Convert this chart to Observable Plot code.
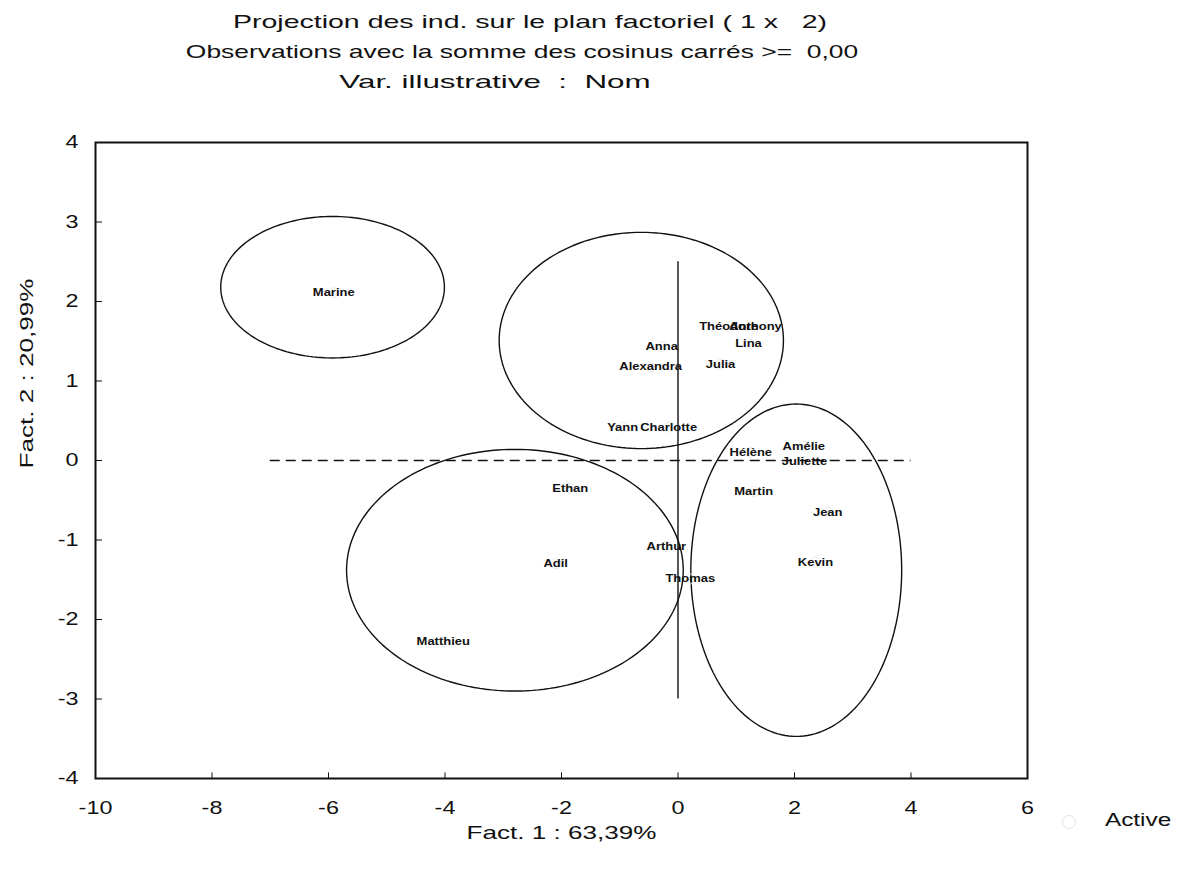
<!DOCTYPE html>
<html>
<head>
<meta charset="utf-8">
<script src="https://cdn.jsdelivr.net/npm/d3@7"></script>
<script src="https://cdn.jsdelivr.net/npm/@observablehq/plot@0.6"></script>
<style>
  body { margin: 0; background: #fff; font-family: "Liberation Sans", Arial, sans-serif; }
  #wrap { position: relative; width: 1180px; height: 870px; }
  .t { position: absolute; left: 0; text-align: center; font-size: 19px; color: #111; white-space: pre; line-height: 30px; transform-origin: center; }
  #legend { position: absolute; left: 1062px; top: 808px; font-size: 18px; color: #111; }
  #legend span.c { position: absolute; left: 0; top: 7px; width: 12px; height: 12px; border: 1px solid #e4e4e4; border-radius: 50%; }
  #legend span.l { position: absolute; left: 43px; top: 2px; transform: scaleX(1.35); transform-origin: left; }
  #chart { position: absolute; left: 0; top: 100px; }
</style>
</head>
<body>
<div id="wrap">
  <div class="t" style="top:7px;width:1060px;transform:scaleX(1.5)">Projection des ind. sur le plan factoriel ( 1 x   2)</div>
  <div class="t" style="top:37px;width:1044px;transform:scaleX(1.39)">Observations avec la somme des cosinus carrés &gt;=  0,00</div>
  <div class="t" style="top:67px;width:990px;transform:scaleX(1.65)">Var. illustrative  :  Nom</div>
  <div id="chart"></div>
  <div id="legend"><span class="c"></span><span class="l">Active</span></div>
</div>
<script>
// Individuals (projection on factorial plane 1 x 2)
const names = ["Marine","Anna","Alexandra","Théodore","Anthony","Lina","Julia","Yann","Charlotte",
  "Hélène","Amélie","Juliette","Martin","Jean","Kevin","Ethan","Adil","Arthur","Thomas","Matthieu"];
const fact1 = [-5.91,-0.28,-0.47,0.87,1.33,1.21,0.73,-0.95,-0.16,
  1.25,2.16,2.17,1.30,2.57,2.36,-1.85,-2.10,-0.20,0.21,-4.03];
const fact2 = [2.11,1.43,1.18,1.68,1.68,1.47,1.21,0.42,0.42,
  0.10,0.18,-0.01,-0.39,-0.65,-1.28,-0.35,-1.30,-1.08,-1.49,-2.28];

// Hand-drawn group ellipses: centre and radii (factor units)
const ellCx = [-5.93,-0.63,-2.80,2.03];
const ellCy = [2.18,1.51,-1.38,-1.38];
const ellRx = [1.92,2.44,2.89,1.81];
const ellRy = [0.89,1.36,1.52,2.09];

// Reference lines
const hLine = {x1: -7, x2: 4, y: 0};
const vLine = {x: 0, y1: 2.5, y2: -3};

const xTicks = [-10,-8,-6,-4,-2,0,2,4,6];
const yTicks = [-4,-3,-2,-1,0,1,2,3,4];

const points = names.map((n, i) => ({name: n, x: fact1[i], y: fact2[i]}));
const ellPts = [];
ellCx.forEach((cx, k) => {
  for (let j = 0; j <= 180; j++) {
    const t = 2 * Math.PI * j / 180;
    ellPts.push({g: k, x: cx + ellRx[k] * Math.cos(t), y: ellCy[k] + ellRy[k] * Math.sin(t)});
  }
});

const plot = Plot.plot({
  width: 1180, height: 770,
  marginLeft: 95, marginRight: 153, marginTop: 42, marginBottom: 92,
  style: {fontFamily: "Liberation Sans, Arial, sans-serif", color: "#111", background: "#fff"},
  x: {domain: [-10, 6]},
  y: {domain: [-4, 4]},
  marks: [
    Plot.line(ellPts, {x: "x", y: "y", z: "g", stroke: "#111", strokeWidth: 1.4}),
    Plot.ruleY([hLine], {y: "y", x1: "x1", x2: "x2", stroke: "#111", strokeWidth: 1.5, strokeDasharray: "10,6"}),
    Plot.ruleX([vLine], {x: "x", y1: "y1", y2: "y2", stroke: "#111", strokeWidth: 1.4}),
    Plot.dot(points, {x: "x", y: "y", r: 5, stroke: "#ececec", strokeWidth: 1}),
    Plot.text(points, {x: "x", y: "y", text: "name", fontSize: 11, fill: "#111", stroke: "none", fontWeight: 600, className: "ptlabel"}),
    Plot.ruleX(xTicks, {x: d => d, y1: -4, y2: -3.93, stroke: "#111"}),
    Plot.ruleY(yTicks, {y: d => d, x1: -10, x2: -9.88, stroke: "#111"}),
    Plot.axisX(xTicks, {tickSize: 0, tickPadding: 23, fontSize: 18, label: null, tickFormat: d => String(d), className: "ticklab"}),
    Plot.axisY(yTicks, {tickSize: 0, tickPadding: 17, fontSize: 18, label: null, tickFormat: d => String(d), className: "ticklab"}),
    Plot.frame({stroke: "#111", strokeWidth: 2}),
    Plot.text(["Fact. 1 : 63,39%"], {frameAnchor: "bottom", dy: 60, fontSize: 18, fill: "#111", className: "axtitle"}),
    Plot.text(["Fact. 2 : 20,99%"], {frameAnchor: "left", dx: -68, dy: 8, rotate: -90, fontSize: 18, fill: "#111", className: "axtitle"})
  ]
});

// Horizontal stretch of the texts, as in the reference rendering
d3.select(plot).selectAll("text").each(function() {
  const g = this.closest("g");
  const cls = g ? (g.getAttribute("class") || "") : "";
  let k = 1;
  if (cls.includes("ptlabel")) k = 1.18;
  else if (cls.includes("ticklab")) k = 1.3;
  else if (cls.includes("axtitle")) k = 1.45;
  const t = this.getAttribute("transform");
  if (k !== 1 && t) this.setAttribute("transform", t + ` scale(${k},1)`);
});
document.getElementById("chart").appendChild(plot);
</script>
</body>
</html>
